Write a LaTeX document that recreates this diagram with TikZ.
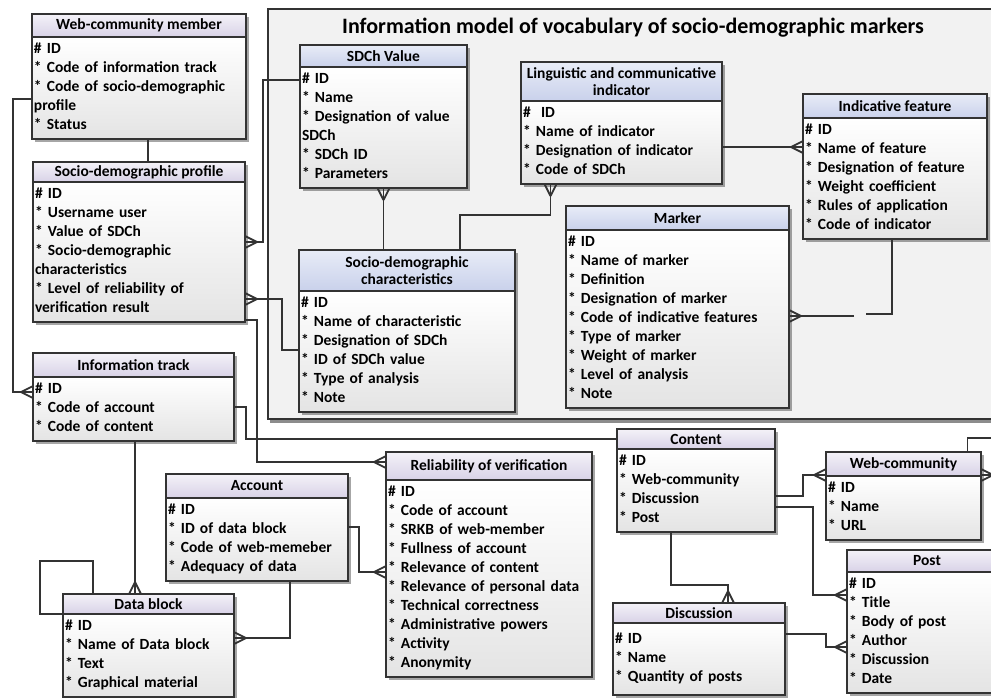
\documentclass[tikz,border=0pt]{standalone}
\usepackage{fontspec}
\setmainfont{Carlito}
\usepackage{tikz}
\usetikzlibrary{positioning,shadows,decorations.markings}
\definecolor{linegray}{HTML}{333333}
\definecolor{lavtop}{HTML}{F4F2F8}
\definecolor{lavbot}{HTML}{D8D2E7}
\definecolor{bluetop}{HTML}{E8ECF7}
\definecolor{bluebot}{HTML}{C9D1EB}
\definecolor{bodybot}{HTML}{E4E4E4}
\definecolor{framefill}{HTML}{F2F2F2}
\tikzset{%
	entbox/.style   = {draw=linegray, line width=1.3pt, outer sep=0pt, drop shadow={shadow xshift=2.5pt, shadow yshift=-2.5pt, fill=black, opacity=0.35}},
	head/.style 2 args = {entbox, rectangle, top color=lavtop, bottom color=lavbot, minimum width=#1, minimum height=#2, anchor=north west, align=center, inner sep=1pt, font=\bfseries\fontsize{15.5}{17}\selectfont}, % entity title
	headin/.style 2 args = {head={#1}{#2}, top color=bluetop, bottom color=bluebot}, % title inside the model
	body/.style     = {entbox, rectangle, top color=white, bottom color=bodybot, text width=#1, align=left, inner xsep=2pt, inner ysep=3.5pt, font=\bfseries\fontsize{15.5}{19}\selectfont, execute at begin node=\strut, execute at end node=\strut}, % attribute list
	vocabframe/.style = {draw=linegray, line width=2.2pt, fill=framefill, minimum width=740pt, minimum height=410pt, anchor=north west, drop shadow={shadow xshift=2pt, shadow yshift=-4pt, fill=gray, opacity=0.9}},
	titletext/.style = {font=\bfseries\fontsize{22}{26}\selectfont},
	conn/.style     = {draw=linegray, line width=1.8pt},
	crow/.style     = {postaction=decorate, decoration={markings, mark=at position 1 with {\draw[conn] (-12pt,0pt) -- (0pt,6pt) (-12pt,0pt) -- (0pt,-6pt);}}}, % many end
}
\begin{document}
\begin{tikzpicture}[x=1pt,y=-1pt]
	\useasboundingbox (0,0) rectangle (991,697);
	\node[vocabframe] (vocab) at (267,8) {};
	\node[titletext] (vocabt) at (633,28) {Information model of vocabulary of socio-demographic markers};
	
	% entities of the model
	\node[headin={167pt}{22pt}] (sdcvh) at (300,45) {SDCh Value};
	\node[body=163pt, below=0pt of sdcvh] (sdcv) {\# ID\\{}* Name\\{}* Designation of value\\SDCh\\{}* SDCh ID\\{}* Parameters};
	\node[headin={201pt}{39pt}] (lingh) at (521,62) {Linguistic and communicative\\indicator};
	\node[body=197pt, below=0pt of lingh] (ling) {\#\ \ ID\\{}* Name of indicator\\{}* Designation of indicator\\{}* Code of SDCh};
	\node[headin={184pt}{24pt}] (feath) at (803,94) {Indicative feature};
	\node[body=180pt, below=0pt of feath] (feat) {\# ID\\{}* Name of feature\\{}* Designation of feature\\{}* Weight coefficient\\{}* Rules of application\\{}* Code of indicator};
	\node[headin={223pt}{24pt}] (markerh) at (566,206) {Marker};
	\node[body=219pt, below=0pt of markerh] (marker) {\# ID\\{}* Name of marker\\{}* Definition\\{}* Designation of marker\\{}* Code of indicative features\\{}* Type of marker\\{}* Weight of marker\\{}* Level of analysis\\{}* Note};
	\node[headin={216pt}{41pt}] (sdch) at (299,250) {Socio-demographic\\characteristics};
	\node[body=212pt, below=0pt of sdch] (sdc) {\# ID\\{}* Name of characteristic\\{}* Designation of SDCh\\{}* ID of SDCh value\\{}* Type of analysis\\{}* Note};
	
	% entities outside
	\node[head={214pt}{23pt}] (wcmh) at (32,14) {Web-community member};
	\node[body=210pt, below=0pt of wcmh] (wcm) {\# ID\\{}* Code of information track\\{}* Code of socio-demographic\\profile\\{}* Status};
	\node[head={212pt}{20pt}] (sdph) at (33,162) {Socio-demographic profile};
	\node[body=208pt, below=0pt of sdph] (sdp) {\# ID\\{}* Username user\\{}* Value of SDCh\\{}* Socio-demographic\\characteristics\\{}* Level of reliability of\\verification result};
	\node[head={201pt}{24pt}] (trackh) at (33,353) {Information track};
	\node[body=197pt, below=0pt of trackh] (track) {\# ID\\{}* Code of account\\{}* Code of content};
	\node[head={182pt}{24pt}] (acch) at (166,474) {Account};
	\node[body=178pt, below=0pt of acch] (acc) {\# ID\\{}* ID of data block\\{}* Code of web-memeber\\{}* Adequacy of data};
	\node[head={171pt}{20pt}] (blockh) at (63,594) {Data block};
	\node[body=167pt, below=0pt of blockh] (block) {\# ID\\{}* Name of Data block\\{}* Text\\{}* Graphical material};
	\node[head={206pt}{28pt}] (relh) at (386,452) {Reliability of verification};
	\node[body=202pt, below=0pt of relh] (rel) {\# ID\\{}* Code of account\\{}* SRKB of web-member\\{}* Fullness of account\\{}* Relevance of content\\{}* Relevance of personal data\\{}* Technical correctness\\{}* Administrative powers\\{}* Activity\\{}* Anonymity};
	\node[head={158pt}{20pt}] (conth) at (617,429) {Content};
	\node[body=154pt, below=0pt of conth] (cont) {\# ID\\{}* Web-community\\{}* Discussion\\{}* Post};
	\node[head={155pt}{24pt}] (webh) at (826,452) {Web-community};
	\node[body=151pt, below=0pt of webh] (web) {\# ID\\{}* Name\\{}* URL};
	\node[head={160pt}{22pt}] (posth) at (847,550) {Post};
	\node[body=156pt, below=0pt of posth] (post) {\# ID\\{}* Title\\{}* Body of post\\{}* Author\\{}* Discussion\\{}* Date};
	\node[head={172pt}{20pt}] (disch) at (613,603) {Discussion};
	\node[body=168pt, minimum height=72pt, below=0pt of disch] (disc) {\# ID\\{}* Name\\{}* Quantity of posts};
	
	\coordinate (webout) at (1000,438);
	\coordinate (webin) at (1000,475);
	
	% relations
	\draw[conn] ([xshift=9pt]wcm.south) -- ([xshift=9pt]sdph.north);
	\draw[conn,crow] ([yshift=-62pt]wcm.north west) -- ++(-19,0) |- ([yshift=-15pt]track.north west);
	\draw[conn,crow] ([yshift=-13pt]sdcv.north west) -- ++(-37,0) |- ([yshift=-60pt]sdp.north east);
	\draw[conn,crow] ([yshift=-59pt]sdc.north west) -- ++(-17,0) |- ([yshift=-117pt]sdp.north east);
	\draw[conn,crow] ([yshift=2pt]sdp.south east) -- ++(12,0) |- ([yshift=-10pt]relh.north west);
	\draw[conn] ([yshift=-30pt]track.north east) -- ++(12,0) |- (conth.west);
	\draw[conn,crow] ([xshift=1.5pt]track.south) -- ([xshift=1.5pt]track.south |- blockh.north);
	\draw[conn] (blockh.south west) -- ++(-23,0) -- ++(0,-53) -| ([xshift=30pt]blockh.north west);
	\draw[conn,crow] ([xshift=-58pt]acc.south east) |- ([yshift=-24pt]block.north east);
	\draw[conn,crow] ([yshift=-29pt]acc.north east) -- ++(11,0) |- ([yshift=-92pt]rel.north west);
	\draw[conn,crow] (sdcv.south |- sdch.north) -- (sdcv.south);
	\draw[conn,crow] ([xshift=53pt]sdch.north) -- ++(0,-35) -| ([xshift=-71pt]ling.south);
	\draw[conn,crow] ([yshift=-46pt]ling.north east) -- ([yshift=-29pt]feat.north west);
	\draw[conn] ([xshift=-3pt]feat.south) -- ++(0,75) -- ++(-26,0);
	\draw[conn,crow] ([xshift=65pt,yshift=-86pt]marker.north east) -- ([yshift=-86pt]marker.north east);
	\draw[conn,crow] ([yshift=-47pt]cont.north east) -- ++(28,0) |- ([yshift=1pt]webh.south west);
	\draw[conn,crow] ([yshift=-58pt]cont.north east) -- ++(38,0) |- ([yshift=-23pt]post.north west);
	\draw[conn,crow] ([xshift=-25pt]cont.south) -- ++(0,53) -| ([xshift=29pt]disch.north);
	\draw[conn,crow] ([yshift=-11pt]disc.north east) -- ++(41,0) |- ([yshift=-75pt]post.north west);
	\draw[conn] ([xshift=64pt]webh.north) |- (webout);
	\draw[conn,crow] (webin) -- ([yshift=1pt]webh.south east);
\end{tikzpicture}
\end{document}
